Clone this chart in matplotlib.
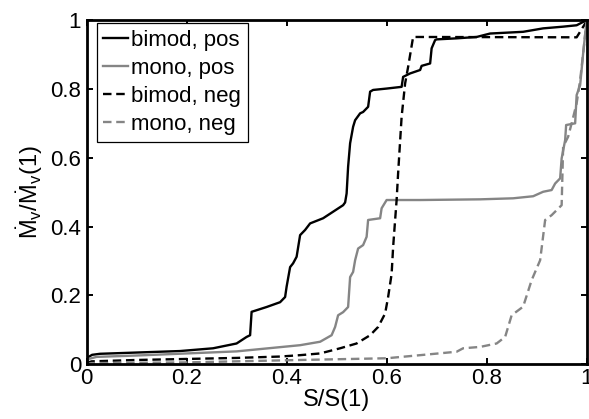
import numpy as np
import matplotlib
matplotlib.use('Agg')
import matplotlib.pyplot as plt

plt.rcParams['font.family'] = ['Liberation Sans', 'DejaVu Sans']
plt.rcParams['mathtext.fontset'] = 'custom'
plt.rcParams['mathtext.rm'] = 'Liberation Sans'
plt.rcParams['mathtext.it'] = 'Liberation Sans:italic'

# bimod, pos (black solid)
bp_x = [0, 0.003, 0.011, 0.027, 0.127, 0.187, 0.253, 0.30, 0.32, 0.327, 0.33, 0.36,
        0.387, 0.397, 0.40, 0.407, 0.413, 0.42, 0.427, 0.437, 0.447, 0.473, 0.493,
        0.513, 0.517, 0.52, 0.523, 0.527, 0.533, 0.537, 0.547, 0.553, 0.563, 0.567,
        0.573, 0.60, 0.63, 0.633, 0.647, 0.667, 0.67, 0.687, 0.69, 0.697, 0.70,
        0.74, 0.78, 0.807, 0.873, 0.913, 0.953, 0.98, 1.0]
bp_y = [0.005, 0.02, 0.027, 0.03, 0.035, 0.038, 0.046, 0.060, 0.079, 0.084, 0.152, 0.166,
        0.180, 0.195, 0.225, 0.282, 0.293, 0.312, 0.375, 0.390, 0.409, 0.424, 0.443,
        0.462, 0.47, 0.496, 0.574, 0.642, 0.690, 0.709, 0.729, 0.733, 0.748, 0.792,
        0.797, 0.801, 0.806, 0.835, 0.845, 0.855, 0.867, 0.874, 0.918, 0.942, 0.944,
        0.947, 0.951, 0.961, 0.966, 0.976, 0.981, 0.985, 1.0]

# mono, pos (grey solid)
mp_x = [0, 0.004, 0.02, 0.1, 0.2, 0.3, 0.427, 0.467, 0.49, 0.497, 0.503, 0.513, 0.523,
        0.527, 0.533, 0.537, 0.543, 0.553, 0.56, 0.563, 0.587, 0.59, 0.60, 0.667,
        0.787, 0.853, 0.893, 0.913, 0.93, 0.937, 0.947, 0.95, 0.957, 0.959, 0.977,
        0.98, 0.987, 0.993, 1.0]
mp_y = [0.005, 0.015, 0.021, 0.025, 0.031, 0.037, 0.055, 0.065, 0.084, 0.108, 0.142, 0.151,
        0.166, 0.253, 0.268, 0.302, 0.336, 0.346, 0.370, 0.419, 0.424, 0.453, 0.477,
        0.477, 0.479, 0.482, 0.488, 0.501, 0.506, 0.525, 0.540, 0.598, 0.651, 0.695,
        0.700, 0.782, 0.811, 0.903, 1.0]

# bimod, neg (black dashed)
bn_x = [0, 0.01, 0.1, 0.2, 0.3, 0.387, 0.427, 0.467, 0.507, 0.54, 0.567, 0.583, 0.597,
        0.603, 0.61, 0.613, 0.617, 0.62, 0.623, 0.63, 0.637, 0.643, 0.653, 0.66, 0.98, 1.0]
bn_y = [0.003, 0.008, 0.012, 0.015, 0.018, 0.022, 0.026, 0.031, 0.046, 0.060, 0.084, 0.108,
        0.147, 0.195, 0.262, 0.34, 0.419, 0.477, 0.555, 0.719, 0.816, 0.864, 0.951, 0.951,
        0.950, 0.997]

# mono, neg (grey dashed)
mn_x = [0, 0.01, 0.2, 0.427, 0.6, 0.667, 0.74, 0.753, 0.787, 0.82, 0.837, 0.85, 0.873,
        0.89, 0.907, 0.917, 0.93, 0.95, 0.953, 0.963, 0.97, 0.98, 0.987, 0.993, 1.0]
mn_y = [0.0, 0.003, 0.005, 0.012, 0.017, 0.026, 0.036, 0.046, 0.050, 0.060, 0.079, 0.142,
        0.167, 0.244, 0.302, 0.419, 0.433, 0.462, 0.632, 0.661, 0.700, 0.758, 0.826,
        0.903, 1.0]

ticks = [0, 0.2, 0.4, 0.6, 0.8, 1]
tick_labels = ['0', '0.2', '0.4', '0.6', '0.8', '1']

grey = '0.52'
dash = (0, (3.6, 2.0))

fig = plt.figure(figsize=(5.89, 4.19), dpi=100)
ax = fig.add_axes([0.147, 0.131, 0.849, 0.821])

ax.plot(bp_x, bp_y, color='k', lw=1.7, label='bimod, pos')
ax.plot(mp_x, mp_y, color=grey, lw=1.7, label='mono, pos')
ax.plot(bn_x, bn_y, color='k', lw=1.7, ls=dash, label='bimod, neg')
ax.plot(mn_x, mn_y, color=grey, lw=1.7, ls=dash, label='mono, neg')

ax.set_xlim(0, 1)
ax.set_ylim(0, 1)
ax.set_xticks(ticks)
ax.set_xticklabels(tick_labels)
ax.set_yticks(ticks)
ax.set_yticklabels(tick_labels)
ax.tick_params(direction='in', length=4.5, width=1.4, top=True, right=True,
               labelsize=16)
ax.tick_params(axis='y', pad=4)
ax.tick_params(axis='x', pad=3)
for s in ax.spines.values():
    s.set_linewidth(2.0)

ax.set_xlabel('S/S(1)', fontsize=17, labelpad=0)
ax.set_ylabel(r'$\dot{\mathrm{M}}_{\mathrm{v}}/\dot{\mathrm{M}}_{\mathrm{v}}(1)$',
              fontsize=17, labelpad=4)

leg = ax.legend(loc='upper left', bbox_to_anchor=(0.02, 0.992), borderaxespad=0,
                fontsize=16, handlelength=1.1, handletextpad=0.15,
                labelspacing=0.32, borderpad=0.3, fancybox=False, framealpha=1)
leg.get_frame().set_edgecolor('k')
leg.get_frame().set_linewidth(0.9)

fig.savefig('out.png', dpi=100)
